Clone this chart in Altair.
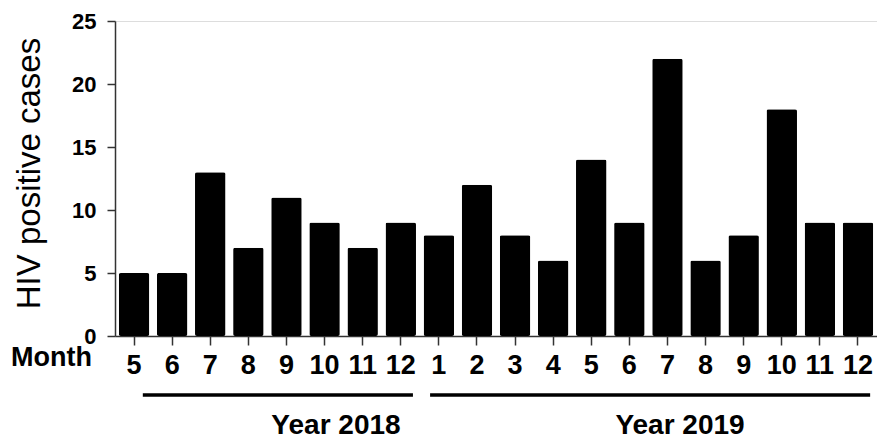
import altair as alt
import pandas as pd

# ---- data ----
months = ["5", "6", "7", "8", "9", "10", "11", "12",
          "1", "2", "3", "4", "5", "6", "7", "8", "9", "10", "11", "12"]
years = ["2018"] * 8 + ["2019"] * 12
cases = [5, 5, 13, 7, 11, 9, 7, 9,
         8, 12, 8, 6, 14, 9, 22, 6, 8, 18, 9, 9]

year_labels = ["Year 2018", "Year 2019"]
year_start = [0.73, 8.27]     # in bar-slot units
year_end = [7.82, 19.82]
year_text_pos = [5.8, 14.83]

keys = [f"{y}-{m}" for y, m in zip(years, months)]
label_map = {k: m for k, m in zip(keys, months)}

df = pd.DataFrame({"key": keys, "month": months, "year": years, "cases": cases})
yr = pd.DataFrame({"label": year_labels, "start": year_start,
                   "end": year_end, "mid": year_text_pos})

W, H = 762, 315
FONT = "Liberation Sans"

label_expr = "{" + ",".join(f"'{k}':'{m}'" for k, m in label_map.items()) + "}[datum.value]"

bars = alt.Chart(df).mark_bar(color="black", cornerRadius=2).encode(
    x=alt.X("key:N", sort=keys,
            scale=alt.Scale(paddingInner=0.2, paddingOuter=0.1),
            axis=alt.Axis(title="Month", labelExpr=label_expr, labelAngle=0,
                          labelFont=FONT, labelFontSize=27, labelFontWeight="bold",
                          labelColor="black", labelPadding=7, labelBaseline="top",
                          tickSize=9, tickColor="#333", tickWidth=1.5,
                          domainColor="#333", domainWidth=1.5,
                          titleFont=FONT, titleFontSize=27, titleFontWeight="bold",
                          titleColor="black", titleX=-64, titleY=29,
                          titleAlign="center", titleBaseline="alphabetic",
                          titleAnchor=None, labelOverlap=False)),
    y=alt.Y("cases:Q", scale=alt.Scale(domain=[0, 25], nice=False),
            axis=alt.Axis(title="HIV positive cases", values=[0, 5, 10, 15, 20, 25],
                          grid=False, labelFont=FONT, labelFontSize=22,
                          labelFontWeight="bold", labelColor="black",
                          labelPadding=11, tickSize=8, tickColor="#333", tickWidth=1.5,
                          domainColor="#333", domainWidth=1.5,
                          titleFont=FONT, titleFontSize=33, titleFontWeight="normal",
                          titleColor="black", titleX=-76, titleY=152,
                          titleAngle=-90, titleAlign="center",
                          titleBaseline="alphabetic")),
)

xq = alt.Scale(domain=[0, 20], nice=False, zero=False)

lines = alt.Chart(yr).mark_rule(color="black", strokeWidth=3.5, clip=False).encode(
    x=alt.X("start:Q", scale=xq, axis=None),
    x2="end:Q",
    y=alt.value(374),
)

texts = alt.Chart(yr).mark_text(font=FONT, fontSize=28, fontWeight="bold",
                                color="black", baseline="alphabetic",
                                align="center", clip=False).encode(
    x=alt.X("mid:Q", scale=xq, axis=None),
    y=alt.value(413),
    text="label:N",
)

chart = alt.layer(bars, lines, texts).resolve_scale(x="independent").properties(
    width=W, height=H,
    autosize=alt.AutoSizeParams(type="none"),
    padding={"left": 107, "top": 13, "right": 0, "bottom": 104},
).configure_view(stroke=None).configure(background="white")

chart.save("out.html", embed_options={"renderer": "svg", "actions": False})
